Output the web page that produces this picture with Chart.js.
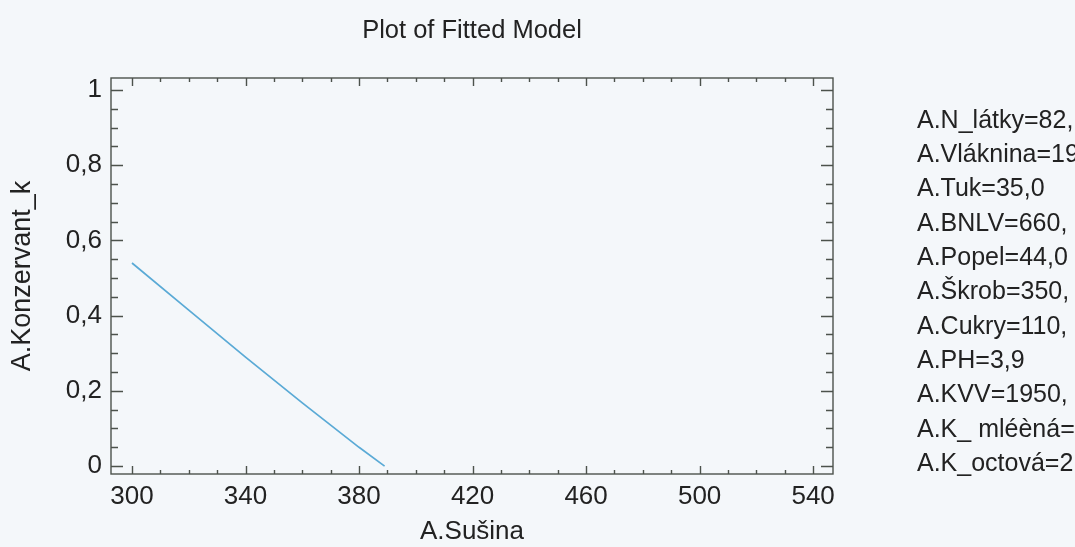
<!DOCTYPE html>
<html>
<head>
<meta charset="utf-8">
<script src="https://cdn.jsdelivr.net/npm/chart.js@4"></script>
<style>
	html, body { margin: 0; padding: 0; background: #f4f7fa; }
	canvas { display: block; }
</style>
</head>
<body>
<canvas id="myChart" width="1075" height="547"></canvas>
<script>
// fitted model: A.Konzervant_k against A.Sušina
const susina = [300, 320, 340, 360, 380, 389];
const konzervant = [0.54, 0.415, 0.29, 0.168, 0.05, 0.0];

const xTicks = [300, 340, 380, 420, 460, 500, 540];
const yTicks = [0, 0.2, 0.4, 0.6, 0.8, 1];

// fixed factor levels listed beside the plot
const factorLevels = [
	"A.N_látky=82,",
	"A.Vláknina=19",
	"A.Tuk=35,0",
	"A.BNLV=660,",
	"A.Popel=44,0",
	"A.Škrob=350,",
	"A.Cukry=110,",
	"A.PH=3,9",
	"A.KVV=1950,",
	"A.K_ mléèná=",
	"A.K_octová=2",
];

const bg = "#f4f7fa";
const ink = "#222222";
const axisColor = "#4c524c";
const fontFamily = "'Liberation Sans', Arial, sans-serif";

Chart.defaults.font.family = fontFamily;
Chart.defaults.color = ink;

const comma = (v) => String(Math.round(v * 10) / 10).replace(".", ",");

// frame, inward tick marks, title and factor list
const framePlugin = {
	id: "frame",
	beforeDraw(chart) {
		const { ctx, width, height } = chart;
		ctx.save();
		ctx.fillStyle = bg;
		ctx.fillRect(0, 0, width, height);
		ctx.restore();
	},
	afterDraw(chart) {
		const { ctx, chartArea: a } = chart;
		const x = chart.scales.x;
		const y = chart.scales.y;
		ctx.save();
		ctx.strokeStyle = axisColor;
		ctx.lineWidth = 1.4;
		ctx.strokeRect(a.left, a.top, a.right - a.left, a.bottom - a.top);

		ctx.beginPath();
		// x ticks every 10, major every 40
		for (let v = 300; v <= 540; v += 10) {
			const px = Math.round(x.getPixelForValue(v)) + 0.5;
			const len = (v - 300) % 40 === 0 ? 8 : 4;
			ctx.moveTo(px, a.bottom);
			ctx.lineTo(px, a.bottom - len);
			ctx.moveTo(px, a.top);
			ctx.lineTo(px, a.top + len);
		}
		// y ticks every 0.05, major every 0.2
		for (let i = 0; i <= 20; i++) {
			const py = Math.round(y.getPixelForValue(i * 0.05)) + 0.5;
			const len = i % 4 === 0 ? 12 : 7;
			ctx.moveTo(a.left, py);
			ctx.lineTo(a.left + len, py);
			ctx.moveTo(a.right, py);
			ctx.lineTo(a.right - len, py);
		}
		ctx.stroke();

		ctx.fillStyle = ink;
		ctx.textBaseline = "middle";
		ctx.font = "25.5px " + fontFamily;
		ctx.textAlign = "center";
		ctx.fillText("Plot of Fitted Model", (a.left + a.right) / 2, 31);

		ctx.textAlign = "left";
		ctx.font = "25px " + fontFamily;
		factorLevels.forEach((t, i) => {
			ctx.fillText(t, 917, 121 + i * 34.3);
		});
		ctx.restore();
	},
};

const ctx = document.getElementById("myChart");
const myChart = new Chart(ctx, {
	type: "scatter",
	data: {
		datasets: [
			{
				data: susina.map((v, i) => ({ x: v, y: konzervant[i] })),
				showLine: true,
				borderColor: "#5aaad6",
				borderWidth: 1.7,
				pointRadius: 0,
				fill: false,
			},
		],
	},
	options: {
		responsive: false,
		animation: false,
		events: [],
		layout: {
			padding: { left: 0, top: 78, right: 242, bottom: 0 },
		},
		plugins: {
			legend: { display: false },
			tooltip: { enabled: false },
			title: { display: false },
		},
		scales: {
			x: {
				type: "linear",
				min: 292.6,
				max: 547,
				afterBuildTicks: (scale) => {
					scale.ticks = xTicks.map((v) => ({ value: v }));
				},
				afterFit: (scale) => {
					scale.height = 73;
				},
				grid: { display: false, drawTicks: false },
				border: { display: false },
				ticks: {
					padding: 7,
					maxRotation: 0,
					autoSkip: false,
					font: { size: 26 },
					color: ink,
					callback: (v) => String(v),
				},
				title: {
					display: true,
					text: "A.Sušina",
					font: { size: 26 },
					color: ink,
					padding: { top: 0, bottom: 0 },
				},
			},
			y: {
				type: "linear",
				min: -0.021,
				max: 1.032,
				afterBuildTicks: (scale) => {
					scale.ticks = yTicks.map((v) => ({ value: v }));
				},
				afterFit: (scale) => {
					scale.width = 111;
				},
				grid: { display: false, drawTicks: false },
				border: { display: false },
				ticks: {
					padding: 9,
					autoSkip: false,
					font: { size: 26 },
					color: ink,
					callback: (v) => comma(v),
				},
				title: {
					display: true,
					text: "A.Konzervant_k",
					font: { size: 27 },
					color: ink,
					padding: { top: 6, bottom: 0 },
				},
			},
		},
	},
	plugins: [framePlugin],
});
</script>
</body>
</html>
